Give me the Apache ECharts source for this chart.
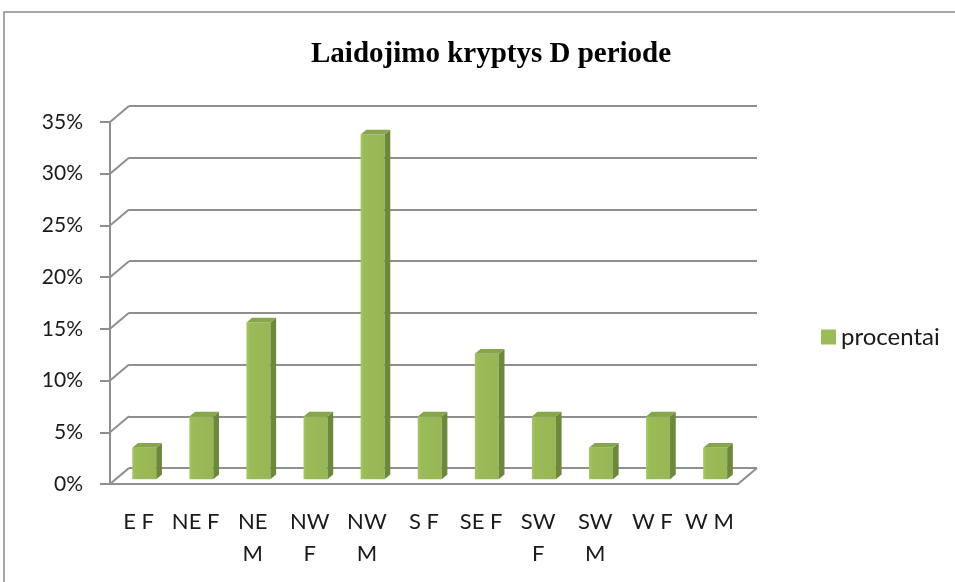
<!DOCTYPE html>
<html>
<head>
<meta charset="utf-8">
<title>Laidojimo kryptys D periode</title>
<script src="https://cdn.jsdelivr.net/npm/echarts@6/dist/echarts.min.js"></script>
<style>
  html, body { margin: 0; padding: 0; background: #fff; }
  #chart { width: 955px; height: 582px; }
</style>
</head>
<body>
<div id="chart"></div>
<script>
// data
const categories = ['E F', 'NE F', 'NE M', 'NW F', 'NW M', 'S F', 'SE F', 'SW F', 'SW M', 'W F', 'W M']
const tickLabels = ['E F', 'NE F', 'NE\nM', 'NW\nF', 'NW\nM', 'S F', 'SE F', 'SW\nF', 'SW\nM', 'W F', 'W M']
const procentai = [3.03, 6.06, 15.15, 6.06, 33.33, 6.06, 12.12, 6.06, 3.03, 6.06, 3.03]
const yTickValues = [0, 5, 10, 15, 20, 25, 30, 35]

// pseudo 3d depth of the plot box
const DX = 19
const DY = 16
const GRID = '#8f8f8f'
const FONT = 'Lato, "Liberation Sans", sans-serif'

const chart = echarts.init(document.getElementById('chart'))

function renderWalls(params, api) {
  const cs = params.coordSys
  const v = api.value(1)
  const y = api.coord([0, v])[1]
  const style = { stroke: GRID, lineWidth: 2 }
  const children = [{
    type: 'line',
    shape: { x1: cs.x, y1: y, x2: cs.x + DX, y2: y - DY },
    style
  }]
  if (v === 0) {
    // right edge of the floor
    children.push({
      type: 'line',
      shape: { x1: cs.x + cs.width, y1: y, x2: cs.x + cs.width + DX, y2: y - DY },
      style
    })
  }
  return { type: 'group', children }
}

function renderBar(params, api) {
  const i = api.value(0)
  const base = api.coord([i, 0])
  const top = api.coord([i, api.value(1)])
  const band = api.size([1, 0])[0]
  const w = band * 0.42
  // front face sits a bit into the depth, bar itself has some depth
  const f0 = 0.3
  const f1 = 0.6
  const ox = DX * f0
  const oy = DY * f0
  const sx = DX * (f1 - f0)
  const sy = DY * (f1 - f0)
  const x0 = base[0] + ox - w / 2
  const x1 = x0 + w
  const yb = base[1] - oy
  const yt = top[1] - oy
  return {
    type: 'group',
    children: [
      {
        type: 'rect',
        shape: { x: x0, y: yt, width: w, height: yb - yt },
        style: {
          fill: new echarts.graphic.LinearGradient(0, 0, 1, 0, [
            { offset: 0, color: '#a6c666' },
            { offset: 0.15, color: '#9bbb59' },
            { offset: 1, color: '#97b756' }
          ])
        }
      },
      {
        type: 'polygon',
        shape: { points: [[x1, yb], [x1 + sx, yb - sy], [x1 + sx, yt - sy], [x1, yt]] },
        style: { fill: '#6c883a' }
      },
      {
        type: 'polygon',
        shape: { points: [[x0, yt], [x0 + sx, yt - sy], [x1 + sx, yt - sy], [x1, yt]] },
        style: { fill: '#86a64b' }
      }
    ]
  }
}

chart.setOption({
  backgroundColor: '#fff',
  animation: false,
  title: {
    text: 'Laidojimo kryptys D periode',
    left: 306,
    top: 35,
    textStyle: {
      fontFamily: '"Liberation Serif", "Times New Roman", serif',
      fontWeight: 'bold',
      fontSize: 29,
      color: '#000'
    }
  },
  legend: {
    data: ['procentai'],
    left: 816,
    top: 320,
    orient: 'vertical',
    itemWidth: 15,
    itemHeight: 15,
    icon: 'rect',
    textStyle: { fontFamily: FONT, fontSize: 24, color: '#1a1a1a' }
  },
  graphic: [{
    type: 'rect',
    silent: true,
    z: -10,
    shape: { x: 4, y: 12, width: 1200, height: 1200 },
    style: { fill: 'none', stroke: '#8a8a8a', lineWidth: 1.5 }
  }],
  grid: [
    { left: 110, top: 122, width: 628, height: 362 },
    { left: 129, top: 106, width: 628, height: 362 }
  ],
  xAxis: [
    {
      type: 'category',
      gridIndex: 0,
      data: categories,
      axisLine: { lineStyle: { color: GRID, width: 2 } },
      axisTick: { length: 7, lineStyle: { color: GRID, width: 2 } },
      axisLabel: {
        margin: 22,
        interval: 0,
        fontFamily: FONT,
        fontSize: 22,
        lineHeight: 32,
        color: '#1a1a1a',
        formatter: (val, idx) => tickLabels[idx]
      }
    },
    {
      type: 'category',
      gridIndex: 1,
      data: categories,
      show: false
    }
  ],
  yAxis: [
    {
      type: 'value',
      gridIndex: 0,
      min: 0,
      max: 35,
      interval: 5,
      axisLine: { show: true, lineStyle: { color: GRID, width: 2 } },
      axisTick: { show: true, length: 10, lineStyle: { color: GRID, width: 2 } },
      splitLine: { show: false },
      axisLabel: {
        margin: 27,
        fontFamily: FONT,
        fontSize: 21,
        color: '#1a1a1a',
        formatter: '{value}%'
      }
    },
    {
      type: 'value',
      gridIndex: 1,
      min: 0,
      max: 35,
      interval: 5,
      axisLine: { show: false },
      axisTick: { show: false },
      axisLabel: { show: false },
      splitLine: { show: true, lineStyle: { color: GRID, width: 2 } }
    }
  ],
  series: [
    {
      name: 'walls',
      type: 'custom',
      xAxisIndex: 0,
      yAxisIndex: 0,
      silent: true,
      z: 1,
      renderItem: renderWalls,
      data: yTickValues.map(v => [0, v])
    },
    {
      name: 'procentai',
      type: 'custom',
      xAxisIndex: 0,
      yAxisIndex: 0,
      z: 5,
      itemStyle: { color: '#9bbb59' },
      renderItem: renderBar,
      data: procentai.map((v, i) => [i, v])
    }
  ]
})
</script>
</body>
</html>
